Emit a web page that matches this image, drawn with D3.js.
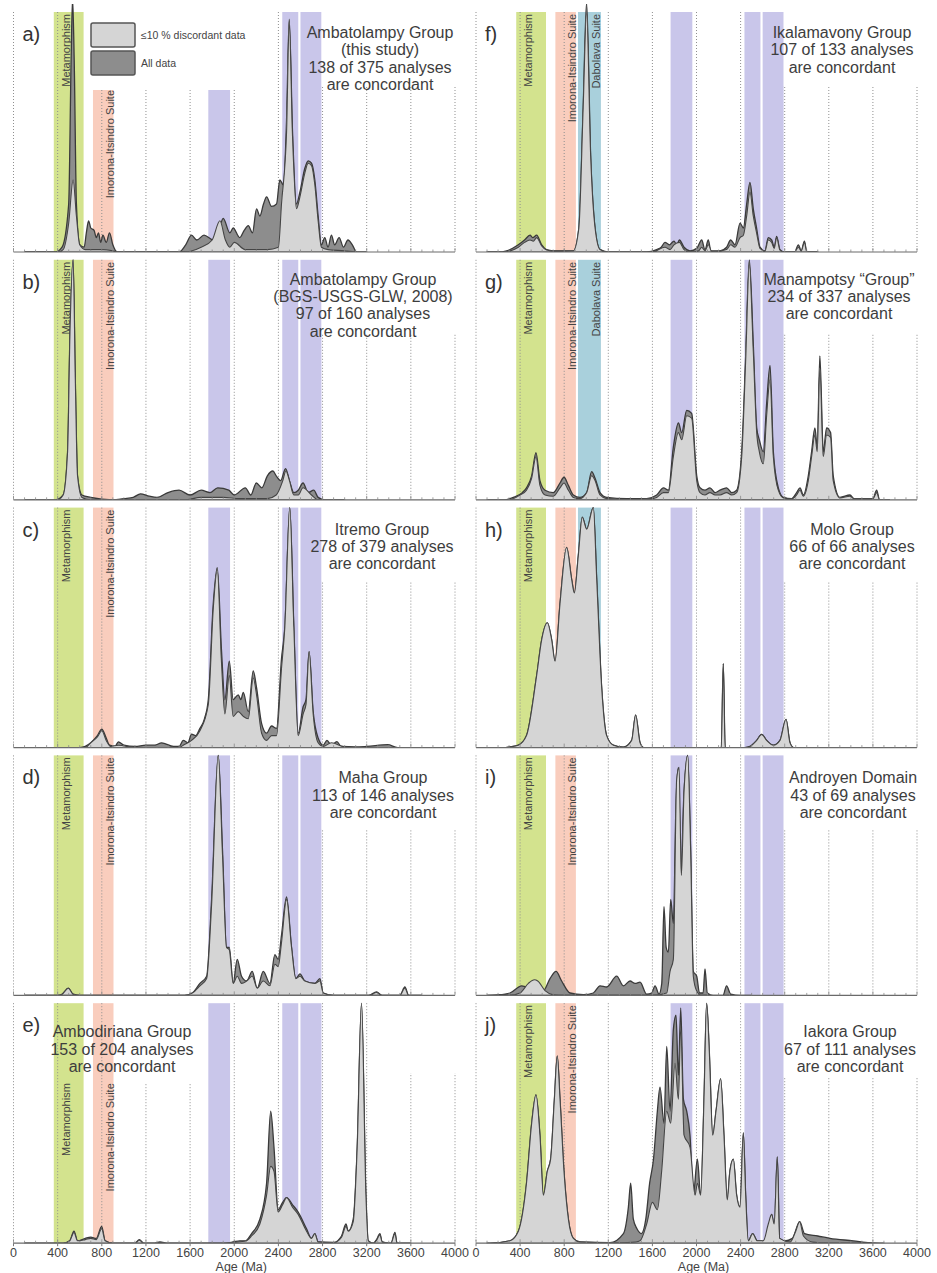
<!DOCTYPE html>
<html>
<head>
<meta charset="utf-8">
<script src="https://cdn.jsdelivr.net/npm/d3@7"></script>
<style>
  body { margin: 0; background: #fff; }
  svg { display: block; font-family: "Liberation Sans", Arial, sans-serif; }
</style>
</head>
<body>
<div id="wrapper"></div>
<script>
// Data: [age (Ma), relative probability (1 = panel top)]
const ageTicks = [0, 400, 800, 1200, 1600, 2000, 2400, 2800, 3200, 3600, 4000];
const panelLetters = ['a', 'b', 'c', 'd', 'e', 'f', 'g', 'h', 'i', 'j'];

const aTitle = ['Ambatolampy Group', '(this study)', '138 of 375 analyses', 'are concordant'];
const bTitle = ['Ambatolampy Group', '(BGS-USGS-GLW, 2008)', '97 of 160 analyses', 'are concordant'];
const cTitle = ['Itremo Group', '278 of 379 analyses', 'are concordant'];
const dTitle = ['Maha Group', '113 of 146 analyses', 'are concordant'];
const eTitle = ['Ambodiriana Group', '153 of 204 analyses', 'are concordant'];
const fTitle = ['Ikalamavony Group', '107 of 133 analyses', 'are concordant'];
const gTitle = ['Manampotsy \u201CGroup\u201D', '234 of 337 analyses', 'are concordant'];
const hTitle = ['Molo Group', '66 of 66 analyses', 'are concordant'];
const iTitle = ['Androyen Domain', '43 of 69 analyses', 'are concordant'];
const jTitle = ['Iakora Group', '67 of 111 analyses', 'are concordant'];

// age ranges of the shaded events
const metamorphismRange = [365, 635];
const imoronaRange = [720, 906];
const dabolavaRange = [925, 1133];
const purpleRanges = [[1765, 1962], [2435, 2580], [2600, 2790]];
const legendLabels = ['\u226410 % discordant data', 'All data'];

const aAll = [[100,0],[380,0],[440,0.02],[500,0.2],[522,0.8],[535,1.06],[550,0.8],[570,0.2],[600,0.03],[640,0.02],[660,0.08],[680,0.13],[700,0.1],[730,0.09],[750,0.06],[770,0.08],[790,0.04],[810,0.07],[840,0.04],[870,0.08],[900,0.03],[940,0],[1500,0],[1560,0.03],[1613,0.07],[1660,0.05],[1726,0.07],[1810,0.05],[1860,0.09],[1900,0.14],[1960,0.08],[1990,0.1],[2050,0.06],[2090,0.09],[2127,0.11],[2165,0.08],[2202,0.18],[2232,0.15],[2265,0.2],[2293,0.23],[2338,0.19],[2383,0.2],[2413,0.3],[2444,0.28],[2474,0.55],[2498,0.97],[2528,0.5],[2564,0.2],[2595,0.25],[2640,0.35],[2670,0.38],[2700,0.37],[2730,0.3],[2760,0.15],[2790,0.03],[2820,0.06],[2850,0.02],[2880,0.07],[2910,0.03],[2950,0.06],[2990,0.02],[3030,0.05],[3070,0.03],[3108,0],[3200,0]];
const aConc = [[100,0],[400,0],[450,0.01],[500,0.12],[540,0.3],[570,0.15],[600,0.03],[650,0.01],[800,0.01],[900,0.005],[950,0],[1550,0],[1700,0.02],[1800,0.05],[1870,0.13],[1920,0.05],[1960,0.02],[2000,0.04],[2100,0.01],[2300,0.01],[2400,0.02],[2428,0.2],[2474,0.5],[2498,0.96],[2528,0.48],[2564,0.18],[2595,0.23],[2640,0.33],[2670,0.37],[2700,0.36],[2730,0.28],[2760,0.13],[2790,0.02],[2850,0.01],[3000,0.005],[3100,0]];

const bAll = [[100,0],[380,0],[450,0.02],[490,0.2],[512,0.7],[540,1.0],[560,0.5],[580,0.1],[620,0.02],[700,0.01],[900,0],[1000,0.005],[1085,0.01],[1150,0.025],[1230,0.015],[1300,0.01],[1400,0.03],[1500,0.04],[1600,0.02],[1700,0.04],[1780,0.03],[1850,0.05],[1950,0.04],[2000,0.02],[2100,0.05],[2150,0.02],[2200,0.07],[2250,0.05],[2300,0.1],[2350,0.12],[2380,0.1],[2420,0.08],[2465,0.13],[2500,0.08],[2540,0.03],[2580,0.04],[2623,0.07],[2670,0.03],[2720,0.04],[2760,0.01],[2820,0],[3000,0]];
const bConc = [[100,0],[400,0],[450,0.02],[490,0.2],[512,0.7],[540,1.0],[560,0.5],[580,0.1],[620,0.01],[700,0],[1550,0],[1700,0.01],[1900,0.01],[2050,0.005],[2300,0.005],[2380,0.02],[2440,0.08],[2468,0.12],[2500,0.08],[2540,0.02],[2580,0.02],[2623,0.05],[2700,0.02],[2760,0],[3000,0]];

const cAll = [[100,0],[600,0],[650,0.005],[700,0.02],[760,0.05],[800,0.077],[840,0.04],[870,0.01],[920,0.005],[950,0.024],[1000,0.01],[1100,0.005],[1200,0.01],[1280,0.01],[1342,0.02],[1450,0.005],[1500,0.005],[1538,0.03],[1580,0.02],[1613,0.056],[1650,0.05],[1689,0.08],[1730,0.12],[1765,0.2],[1810,0.6],[1846,0.75],[1885,0.4],[1915,0.2],[1955,0.36],[1990,0.2],[2036,0.22],[2060,0.2],[2082,0.23],[2127,0.15],[2172,0.32],[2202,0.25],[2248,0.1],[2293,0.06],[2338,0.09],[2383,0.08],[2428,0.37],[2458,0.5],[2503,1.0],[2540,0.5],[2579,0.06],[2624,0.17],[2650,0.2],[2678,0.4],[2715,0.15],[2760,0.04],[2806,0.01],[2840,0.03],[2880,0.01],[2930,0.025],[2968,0.005],[3100,0.003],[3200,0.005],[3390,0.012],[3480,0],[3600,0]];
const cConc = [[100,0],[650,0],[700,0.02],[760,0.045],[800,0.07],[840,0.03],[880,0.005],[950,0.01],[1100,0],[1500,0],[1538,0.01],[1613,0.03],[1689,0.07],[1765,0.18],[1810,0.58],[1846,0.74],[1885,0.35],[1915,0.14],[1955,0.3],[1990,0.13],[2036,0.15],[2082,0.13],[2127,0.12],[2172,0.29],[2202,0.22],[2248,0.06],[2293,0.03],[2338,0.05],[2383,0.05],[2428,0.33],[2458,0.5],[2503,1.0],[2540,0.5],[2579,0.05],[2624,0.14],[2650,0.18],[2678,0.4],[2715,0.14],[2760,0.02],[2806,0.005],[2880,0.02],[3000,0.003],[3100,0]];

const dAll = [[100,0],[400,0],[440,0.005],[497,0.03],[540,0.005],[600,0],[1550,0],[1620,0.01],[1689,0.05],[1750,0.08],[1795,0.4],[1855,1.0],[1894,0.6],[1930,0.2],[1955,0.2],[1990,0.05],[2027,0.15],[2066,0.08],[2112,0.06],[2163,0.1],[2208,0.03],[2263,0.1],[2323,0.05],[2368,0.17],[2398,0.15],[2428,0.25],[2474,0.41],[2519,0.2],[2558,0.07],[2595,0.09],[2640,0.06],[2730,0.05],[2776,0.07],[2806,0.01],[2900,0],[3220,0],[3289,0.015],[3340,0],[3500,0],[3546,0.035],[3580,0],[3700,0]];
const dConc = [[100,0],[400,0],[440,0.005],[497,0.03],[540,0.005],[600,0],[1550,0],[1620,0.01],[1689,0.04],[1750,0.07],[1795,0.38],[1855,1.0],[1894,0.58],[1930,0.2],[1955,0.19],[1990,0.05],[2027,0.08],[2066,0.05],[2112,0.06],[2163,0.08],[2208,0.03],[2263,0.06],[2323,0.04],[2368,0.13],[2398,0.12],[2428,0.22],[2474,0.4],[2519,0.2],[2558,0.07],[2595,0.08],[2640,0.06],[2730,0.05],[2776,0.06],[2806,0.01],[2900,0],[3220,0],[3289,0.012],[3340,0],[3500,0],[3546,0.03],[3580,0],[3700,0]];

const eAll = [[100,0],[450,0],[510,0.01],[548,0.05],[580,0.01],[650,0.02],[700,0.025],[750,0.02],[799,0.07],[830,0.01],[900,0],[1100,0],[1140,0.015],[1180,0],[1270,0],[1327,0.005],[1400,0],[1900,0],[1990,0.005],[2050,0.01],[2100,0.01],[2157,0.04],[2232,0.1],[2293,0.25],[2330,0.55],[2360,0.4],[2398,0.14],[2438,0.17],[2474,0.19],[2528,0.16],[2579,0.13],[2655,0.06],[2700,0.02],[2730,0.04],[2760,0.005],[2900,0.003],[2972,0.03],[3012,0.08],[3033,0.05],[3078,0.1],[3114,0.4],[3153,1.0],[3193,0.2],[3214,0.01],[3260,0],[3289,0.015],[3320,0.04],[3340,0.005],[3420,0],[3456,0.045],[3475,0],[3600,0]];
const eConc = [[100,0],[450,0],[510,0.01],[548,0.045],[580,0.01],[650,0.015],[700,0.02],[750,0.015],[799,0.06],[830,0.01],[900,0],[1100,0],[1140,0.012],[1180,0],[1900,0],[1990,0.004],[2100,0.008],[2157,0.03],[2232,0.08],[2293,0.2],[2330,0.32],[2360,0.3],[2398,0.13],[2438,0.16],[2474,0.19],[2528,0.15],[2579,0.12],[2655,0.05],[2700,0.02],[2730,0.04],[2760,0.005],[2900,0.002],[2972,0.025],[3012,0.07],[3033,0.05],[3078,0.09],[3114,0.4],[3153,1.0],[3193,0.2],[3214,0.01],[3260,0],[3289,0.012],[3320,0.035],[3340,0.005],[3420,0],[3456,0.04],[3475,0],[3600,0]];

const fAll = [[100,0],[200,0],[278,0.005],[384,0.03],[440,0.05],[490,0.07],[514,0.06],[550,0.07],[596,0.03],[640,0.01],[700,0.005],[883,0.005],[933,0.1],[972,0.6],[1003,1.04],[1040,0.4],[1080,0.1],[1125,0.01],[1200,0],[1550,0],[1639,0.01],[1680,0.02],[1714,0.04],[1754,0.03],[1796,0.045],[1820,0.03],[1845,0.05],[1887,0.02],[1941,0.005],[2002,0.015],[2047,0.05],[2077,0.01],[2107,0.05],[2130,0.005],[2213,0.005],[2273,0.02],[2310,0.05],[2349,0.03],[2395,0.12],[2425,0.1],[2455,0.2],[2485,0.29],[2515,0.18],[2545,0.1],[2576,0.02],[2621,0.005],[2651,0.06],[2682,0.05],[2705,0.02],[2727,0.065],[2757,0.01],[2800,0],[2890,0],[2924,0.03],[2950,0.005],[2979,0.045],[3000,0],[3100,0]];
const fConc = [[100,0],[250,0],[384,0.02],[440,0.04],[490,0.05],[520,0.045],[550,0.06],[596,0.025],[640,0.008],[700,0.004],[883,0.005],[933,0.1],[972,0.6],[1003,1.0],[1040,0.4],[1080,0.1],[1125,0.01],[1200,0],[1600,0],[1714,0.02],[1760,0.01],[1796,0.03],[1845,0.04],[1887,0.01],[1941,0],[2020,0.005],[2047,0.02],[2077,0.005],[2107,0.03],[2140,0],[2273,0.01],[2310,0.03],[2349,0.02],[2395,0.06],[2425,0.07],[2455,0.15],[2485,0.25],[2515,0.15],[2545,0.08],[2576,0.015],[2621,0.004],[2651,0.05],[2682,0.04],[2705,0.015],[2727,0.06],[2757,0.008],[2800,0],[2890,0],[2924,0.02],[2950,0.004],[2979,0.04],[3000,0],[3100,0]];

const gAll = [[100,0],[250,0],[339,0.01],[420,0.03],[458,0.05],[505,0.1],[544,0.196],[580,0.08],[626,0.04],[701,0.03],[762,0.07],[798,0.094],[838,0.06],[883,0.02],[943,0.01],[1004,0.03],[1049,0.117],[1080,0.09],[1125,0.03],[1185,0.01],[1367,0.005],[1548,0.005],[1639,0.02],[1700,0.05],[1745,0.04],[1790,0.22],[1836,0.32],[1866,0.28],[1911,0.373],[1956,0.36],[2002,0.1],[2032,0.05],[2077,0.04],[2122,0.05],[2168,0.03],[2213,0.04],[2273,0.05],[2319,0.03],[2364,0.04],[2410,0.2],[2446,0.6],[2479,1.0],[2515,0.65],[2546,0.3],[2570,0.25],[2606,0.2],[2636,0.4],[2667,0.56],[2697,0.2],[2742,0.05],[2788,0.01],[2863,0.005],[2908,0.03],[2939,0.05],[2969,0.02],[3014,0.1],[3044,0.2],[3074,0.3],[3095,0.22],[3119,0.6],[3150,0.2],[3180,0.3],[3216,0.28],[3240,0.1],[3301,0.01],[3392,0.02],[3430,0.005],[3600,0.005],[3634,0.04],[3660,0],[3750,0]];
const gConc = [[100,0],[300,0],[400,0.02],[458,0.04],[505,0.09],[544,0.18],[580,0.06],[626,0.02],[701,0.015],[762,0.05],[798,0.07],[838,0.04],[883,0.01],[943,0.005],[1004,0.03],[1049,0.1],[1080,0.08],[1125,0.02],[1185,0.005],[1400,0.002],[1600,0.005],[1639,0.01],[1700,0.03],[1745,0.03],[1790,0.18],[1836,0.28],[1866,0.25],[1911,0.35],[1956,0.34],[2002,0.08],[2032,0.03],[2077,0.02],[2122,0.03],[2168,0.02],[2213,0.02],[2273,0.03],[2319,0.02],[2364,0.03],[2410,0.18],[2446,0.58],[2479,0.98],[2515,0.62],[2546,0.28],[2570,0.2],[2606,0.15],[2636,0.35],[2667,0.5],[2697,0.18],[2742,0.04],[2788,0.008],[2863,0.004],[2908,0.02],[2939,0.04],[2969,0.015],[3014,0.08],[3044,0.18],[3074,0.27],[3095,0.2],[3119,0.55],[3150,0.18],[3180,0.27],[3216,0.26],[3240,0.08],[3301,0.008],[3392,0.015],[3430,0.004],[3600,0.004],[3634,0.03],[3660,0],[3750,0]];

const hAll = [[100,0],[250,0],[308,0.003],[384,0.01],[458,0.05],[550,0.3],[596,0.45],[647,0.52],[686,0.45],[717,0.36],[762,0.6],[822,0.834],[868,0.7],[892,0.644],[928,0.8],[964,0.96],[1004,0.91],[1064,1.0],[1095,0.7],[1140,0.25],[1185,0.05],[1246,0.01],[1337,0.002],[1412,0.03],[1448,0.136],[1488,0.02],[1520,0],[2225,0],[2243,0.35],[2260,0],[2440,0],[2485,0.005],[2546,0.03],[2591,0.055],[2636,0.03],[2697,0.01],[2757,0.03],[2812,0.118],[2848,0.02],[2880,0],[3000,0]];
const hConc = hAll; // 66 of 66 concordant: both curves coincide

const iAll = [[100,0],[188,0.002],[308,0.01],[414,0.04],[490,0.03],[550,0.02],[611,0.02],[671,0.07],[726,0.1],[777,0.06],[853,0.01],[974,0.003],[1064,0.01],[1125,0.04],[1185,0.035],[1276,0.08],[1337,0.04],[1397,0.06],[1443,0.05],[1488,0.055],[1548,0.005],[1594,0.01],[1624,0.04],[1660,0.005],[1685,0.05],[1705,0.37],[1725,0.2],[1745,0.18],[1766,0.4],[1790,0.3],[1814,0.8],[1836,0.95],[1857,0.5],[1887,0.85],[1920,1.0],[1947,0.6],[1971,0.1],[2002,0.08],[2027,0.01],[2060,0.01],[2077,0.11],[2098,0.01],[2150,0],[2240,0],[2273,0.04],[2310,0.005],[2400,0],[2500,0]];
const iConc = [[100,0],[300,0],[399,0.01],[475,0.05],[530,0.065],[560,0.06],[626,0.02],[701,0.003],[800,0],[1600,0],[1730,0.01],[1760,0.1],[1790,0.15],[1820,0.9],[1842,0.95],[1863,0.5],[1887,0.85],[1920,1.0],[1947,0.6],[1971,0.08],[2000,0.02],[2040,0],[2100,0]];

const jAll = [[100,0],[127,0],[308,0.01],[384,0.05],[458,0.25],[505,0.5],[544,0.618],[580,0.45],[611,0.2],[647,0.3],[677,0.35],[711,0.6],[737,0.78],[762,0.6],[798,0.3],[838,0.1],[883,0.02],[943,0.005],[1215,0.002],[1337,0.04],[1382,0.15],[1403,0.25],[1427,0.1],[1460,0.06],[1500,0.04],[1540,0.1],[1575,0.25],[1610,0.35],[1645,0.55],[1669,0.65],[1705,0.5],[1730,0.82],[1760,0.55],[1790,0.89],[1814,0.95],[1836,0.7],[1857,0.98],[1881,0.6],[1911,0.55],[1941,0.45],[1971,0.2],[2008,0.35],[2038,0.2],[2068,0.6],[2092,1.0],[2116,0.8],[2147,0.45],[2177,0.55],[2219,0.685],[2249,0.45],[2279,0.18],[2303,0.3],[2334,0.35],[2364,0.2],[2395,0.15],[2425,0.46],[2446,0.2],[2470,0.01],[2509,0.04],[2552,0.01],[2606,0.01],[2651,0.05],[2682,0.12],[2705,0.06],[2733,0.36],[2754,0.02],[2800,0.01],[2870,0.02],[2936,0.09],[2980,0.04],[3100,0.03],[3210,0.02],[3422,0.01],[3573,0.002],[3700,0]];
const jConc = [[100,0],[127,0],[308,0.01],[384,0.05],[458,0.25],[505,0.5],[544,0.618],[580,0.45],[611,0.2],[647,0.3],[677,0.35],[711,0.6],[737,0.78],[762,0.6],[798,0.3],[838,0.1],[883,0.02],[943,0.005],[1300,0.002],[1450,0.005],[1488,0.01],[1548,0.08],[1600,0.17],[1645,0.14],[1684,0.3],[1730,0.55],[1766,0.5],[1805,0.75],[1836,0.6],[1857,0.9],[1887,0.45],[1941,0.4],[1987,0.2],[2008,0.25],[2038,0.2],[2068,0.6],[2092,1.0],[2116,0.8],[2147,0.45],[2177,0.55],[2219,0.685],[2249,0.45],[2279,0.18],[2303,0.3],[2334,0.35],[2364,0.2],[2395,0.15],[2425,0.46],[2446,0.2],[2470,0.01],[2509,0.04],[2552,0.01],[2606,0.01],[2651,0.08],[2682,0.12],[2705,0.08],[2733,0.36],[2754,0.02],[2850,0.005],[2900,0.05],[2936,0.09],[2970,0.03],[3050,0.005],[3200,0]];

// Layout
const width = 937;
const height = 1273;
const colRange = [[13.5, 455], [476, 917]];
const rowStep = 247.8;
const firstTop = 12;
const panelH = 240;

const colors = {
  meta: '#d3e38e',
  imo: '#f9cdbd',
  dab: '#a9d0dc',
  purple: '#c9c6ea',
  light: '#d5d5d5',
  dark: '#8d8d8d',
  line: '#3a3a3a',
  text: '#3d3d3d',
};

const allSeries = [aAll, bAll, cAll, dAll, eAll, fAll, gAll, hAll, iAll, jAll];
const concSeries = [aConc, bConc, cConc, dConc, eConc, fConc, gConc, hConc, iConc, jConc];
const titles = [aTitle, bTitle, cTitle, dTitle, eTitle, fTitle, gTitle, hTitle, iTitle, jTitle];

// per-panel layout options
const panelOpts = [
  { titleX: 380, titleY: 26, labels: { meta: 2, imo: 78 }, masks: [[690, 2300, 78], [2792, 4050, 74]], dab: false },
  { titleX: 363, titleY: 25, labels: { meta: 2, imo: 2 }, masks: [[2792, 4050, 74]], dab: false },
  { titleX: 382, titleY: 27, labels: { meta: 2, imo: 2 }, masks: [[2792, 4050, 74]], dab: false },
  { titleX: 383, titleY: 28, labels: { meta: 2, imo: 2 }, masks: [[2792, 4050, 74]], dab: false },
  { titleX: 122, titleY: 34, labels: { meta: 80, imo: 80 }, masks: [[960, 1700, 80], [3560, 4050, 70]], dab: false },
  { titleX: 842, titleY: 26, labels: { meta: 2, imo: 2, dab: 2 }, masks: [[2792, 4050, 74]], dab: true },
  { titleX: 839, titleY: 25, labels: { meta: 2, imo: 2, dab: 2 }, masks: [[2792, 4050, 74]], dab: true },
  { titleX: 852, titleY: 27, labels: { meta: 2 }, masks: [[2792, 4050, 74]], dab: true },
  { titleX: 853, titleY: 28, labels: { meta: 2, imo: 2 }, masks: [[2792, 4050, 74]], dab: false },
  { titleX: 850, titleY: 34, labels: { meta: 2, imo: 2 }, masks: [[2792, 4050, 74]], dab: false },
];

const labelText = { meta: 'Metamorphism', imo: 'Imorona-Itsindro Suite', dab: 'Dabolava Suite' };
const labelAge = { meta: 475, imo: 870, dab: 1092 };

const svg = d3
  .select('#wrapper')
  .append('svg')
  .attr('width', width)
  .attr('height', height);

const defs = svg.append('defs');

panelLetters.forEach((letter, i) => {
  const col = i < 5 ? 0 : 1;
  const row = i % 5;
  const top = firstTop + row * rowStep;
  const base = top + panelH;
  const opts = panelOpts[i];

  const xScale = d3.scaleLinear().domain([0, 4000]).range(colRange[col]);
  const yScale = d3.scaleLinear().domain([0, 1]).range([base, top]);

  const g = svg.append('g').attr('id', 'panel-' + letter);

  // Shaded bands
  const bands = [
    { r: metamorphismRange, c: colors.meta },
    { r: imoronaRange, c: colors.imo },
  ];
  if (opts.dab) bands.push({ r: dabolavaRange, c: colors.dab });
  purpleRanges.forEach((r) => bands.push({ r, c: colors.purple }));

  g.selectAll('rect.band')
    .data(bands)
    .join('rect')
    .attr('class', 'band')
    .attr('x', (d) => xScale(d.r[0]))
    .attr('width', (d) => xScale(d.r[1]) - xScale(d.r[0]))
    .attr('y', top)
    .attr('height', panelH)
    .attr('fill', (d) => d.c);

  // Dotted grid
  g.selectAll('line.grid')
    .data(ageTicks)
    .join('line')
    .attr('class', 'grid')
    .attr('x1', (d) => xScale(d))
    .attr('x2', (d) => xScale(d))
    .attr('y1', top)
    .attr('y2', base)
    .attr('stroke', '#8f8f8f')
    .attr('stroke-width', 1)
    .attr('stroke-dasharray', '1,2');

  // white areas behind title / legend
  g.selectAll('rect.mask')
    .data(opts.masks)
    .join('rect')
    .attr('class', 'mask')
    .attr('x', (d) => xScale(d[0]))
    .attr('width', (d) => Math.min(xScale(d[1]), colRange[col][1] + 3) - xScale(d[0]))
    .attr('y', top - 2)
    .attr('height', (d) => d[2] + 2)
    .attr('fill', '#fff');

  // Vertical band labels
  Object.keys(opts.labels).forEach((k) => {
    g.append('text')
      .attr('transform', `translate(${xScale(labelAge[k]) + 4},${top + opts.labels[k]}) rotate(-90)`)
      .attr('text-anchor', 'end')
      .attr('font-size', 11)
      .attr('fill', '#444')
      .text(labelText[k]);
  });

  // Curves
  const clipId = 'clip-' + letter;
  defs.append('clipPath')
    .attr('id', clipId)
    .append('rect')
    .attr('x', colRange[col][0])
    .attr('y', top - 8)
    .attr('width', colRange[col][1] - colRange[col][0])
    .attr('height', panelH + 8);

  const area = d3
    .area()
    .x((d) => xScale(d[0]))
    .y0(base)
    .y1((d) => yScale(d[1]))
    .curve(d3.curveMonotoneX);

  const curves = g.append('g').attr('clip-path', `url(#${clipId})`);
  curves.append('path')
    .datum(allSeries[i])
    .attr('d', area)
    .attr('fill', colors.dark)
    .attr('stroke', colors.line)
    .attr('stroke-width', 1.3)
    .attr('stroke-linejoin', 'round');
  curves.append('path')
    .datum(concSeries[i])
    .attr('d', area)
    .attr('fill', colors.light)
    .attr('stroke', '#454545')
    .attr('stroke-width', 1.1)
    .attr('stroke-linejoin', 'round');

  // Baseline and minor ticks
  g.append('line')
    .attr('x1', xScale(0))
    .attr('x2', xScale(4000))
    .attr('y1', base)
    .attr('y2', base)
    .attr('stroke', '#6a6a6a')
    .attr('stroke-width', 1.2);
  g.selectAll('line.minor')
    .data(d3.range(0, 4001, 100))
    .join('line')
    .attr('class', 'minor')
    .attr('x1', (d) => xScale(d))
    .attr('x2', (d) => xScale(d))
    .attr('y1', base)
    .attr('y2', (d) => (d % 400 === 0 ? base - 4 : base - 2.5))
    .attr('stroke', '#888')
    .attr('stroke-width', 0.8);

  // Panel letter
  g.append('text')
    .attr('x', colRange[col][0] + 9)
    .attr('y', top + 29)
    .attr('font-size', 20)
    .attr('fill', '#333')
    .text(letter + ')');

  // Title
  g.append('text')
    .attr('text-anchor', 'middle')
    .attr('font-size', 16)
    .attr('fill', colors.text)
    .selectAll('tspan')
    .data(titles[i])
    .join('tspan')
    .attr('x', opts.titleX)
    .attr('y', (d, k) => top + opts.titleY + k * 17.3)
    .text((d) => d);

  // Bottom axis labels
  if (row === 4) {
    g.selectAll('text.tick')
      .data(ageTicks)
      .join('text')
      .attr('class', 'tick')
      .attr('x', (d) => xScale(d))
      .attr('y', base + 13.5)
      .attr('text-anchor', 'middle')
      .attr('font-size', 12.5)
      .attr('fill', '#444')
      .text((d) => d);
    g.selectAll('line.major')
      .data(ageTicks)
      .join('line')
      .attr('class', 'major')
      .attr('x1', (d) => xScale(d))
      .attr('x2', (d) => xScale(d))
      .attr('y1', base)
      .attr('y2', base + 3)
      .attr('stroke', '#777');
    g.append('text')
      .attr('x', (colRange[col][0] + colRange[col][1]) / 2 + 7)
      .attr('y', base + 27.5)
      .attr('text-anchor', 'middle')
      .attr('font-size', 12.5)
      .attr('fill', '#444')
      .text('Age (Ma)');
  }

  // Legend (panel a only)
  if (i === 0) {
    const legend = g.append('g');
    const fills = [colors.light, colors.dark];
    legend.selectAll('rect')
      .data(legendLabels)
      .join('rect')
      .attr('x', 91)
      .attr('y', (d, k) => top + 11 + k * 28)
      .attr('width', 44)
      .attr('height', 24)
      .attr('rx', 2)
      .attr('fill', (d, k) => fills[k])
      .attr('stroke', '#555')
      .attr('stroke-width', 1.5);
    legend.selectAll('text')
      .data(legendLabels)
      .join('text')
      .attr('x', 141)
      .attr('y', (d, k) => top + 27 + k * 28)
      .attr('font-size', 10.5)
      .attr('fill', '#444')
      .text((d) => d);
  }
});
</script>
</body>
</html>
